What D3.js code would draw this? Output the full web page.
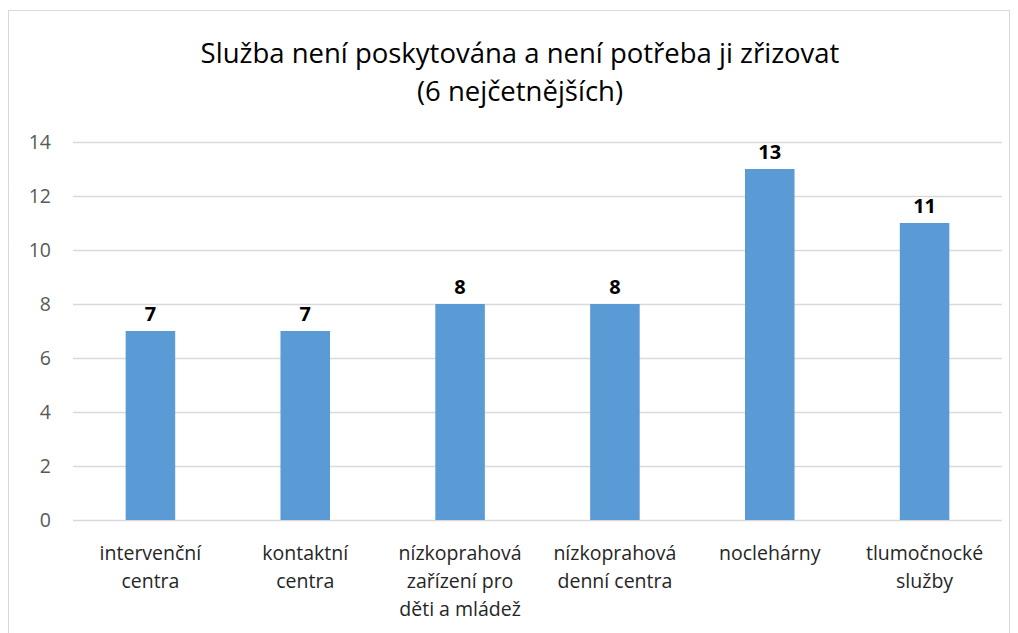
<!DOCTYPE html>
<html><head><meta charset="utf-8">
<script src="https://cdn.jsdelivr.net/npm/d3@7"></script>
<style>body{margin:0;background:#fff}svg{display:block}</style>
</head><body>
<script>
const categories = [["intervenční","centra"],["kontaktní","centra"],["nízkoprahová","zařízení pro","děti a mládež"],["nízkoprahová","denní centra"],["noclehárny"],["tlumočnocké","služby"]];
const values = [7,7,8,8,13,11];
const yTicks = [0,2,4,6,8,10,12,14];
const titleLines = ["Služba není poskytována a není potřeba ji zřizovat","(6 nejčetnějších)"];

const W=1018,H=633, font="'Open Sans', 'Noto Sans', sans-serif";
const svg=d3.select("body").append("svg").attr("width",W).attr("height",H);
svg.append("rect").attr("x",8.5).attr("y",10.5).attr("width",1001).attr("height",640).attr("fill","#fff").attr("stroke","#d9d9d9");

const x=d3.scaleBand().domain(d3.range(categories.length)).range([73,1002]).paddingInner(0.68).paddingOuter(0.34);
const y=d3.scaleLinear().domain([0,14]).range([520,142]);

svg.append("g").selectAll("line").data(yTicks).join("line")
 .attr("x1",73).attr("x2",1002).attr("y1",d=>Math.round(y(d))+0.5).attr("y2",d=>Math.round(y(d))+0.5)
 .attr("stroke","#d9d9d9").attr("stroke-width",1.3);

const yAxis=svg.append("g").attr("transform","translate(51,0)").call(d3.axisLeft(y).tickValues(yTicks).tickSize(0).tickPadding(0));
yAxis.select(".domain").remove();
yAxis.selectAll("text").attr("font-family",font).style("font-size","19.5px").attr("fill","#595959").attr("dy","0.35em");

svg.append("g").selectAll("text").data(values).join("text")
 .attr("x",(d,i)=>x(i)+x.bandwidth()/2).attr("y",d=>y(d)-10).attr("text-anchor","middle")
 .attr("font-family",font).attr("font-weight","bold").attr("font-size",20).attr("fill","#000").text(d=>d);

svg.append("g").selectAll("rect").data(values).join("rect")
 .attr("x",(d,i)=>x(i)).attr("width",x.bandwidth()).attr("y",d=>y(d)).attr("height",d=>y(0)-y(d)).attr("fill","#5b9bd5");

const xl=svg.append("g");
categories.forEach((c,i)=>{
  const t=xl.append("text").attr("text-anchor","middle").attr("font-family",font).attr("font-size",19.5).attr("fill","#262626");
  c.forEach((l,j)=>t.append("tspan").attr("x",x(i)+x.bandwidth()/2).attr("y",560+j*28).text(l));
});

const tt=svg.append("text").attr("text-anchor","middle").attr("font-family",font).attr("font-size",27.5).attr("fill","#000");
titleLines.forEach((l,j)=>tt.append("tspan").attr("x",520).attr("y",63+j*38).text(l));
</script>
</body></html>
